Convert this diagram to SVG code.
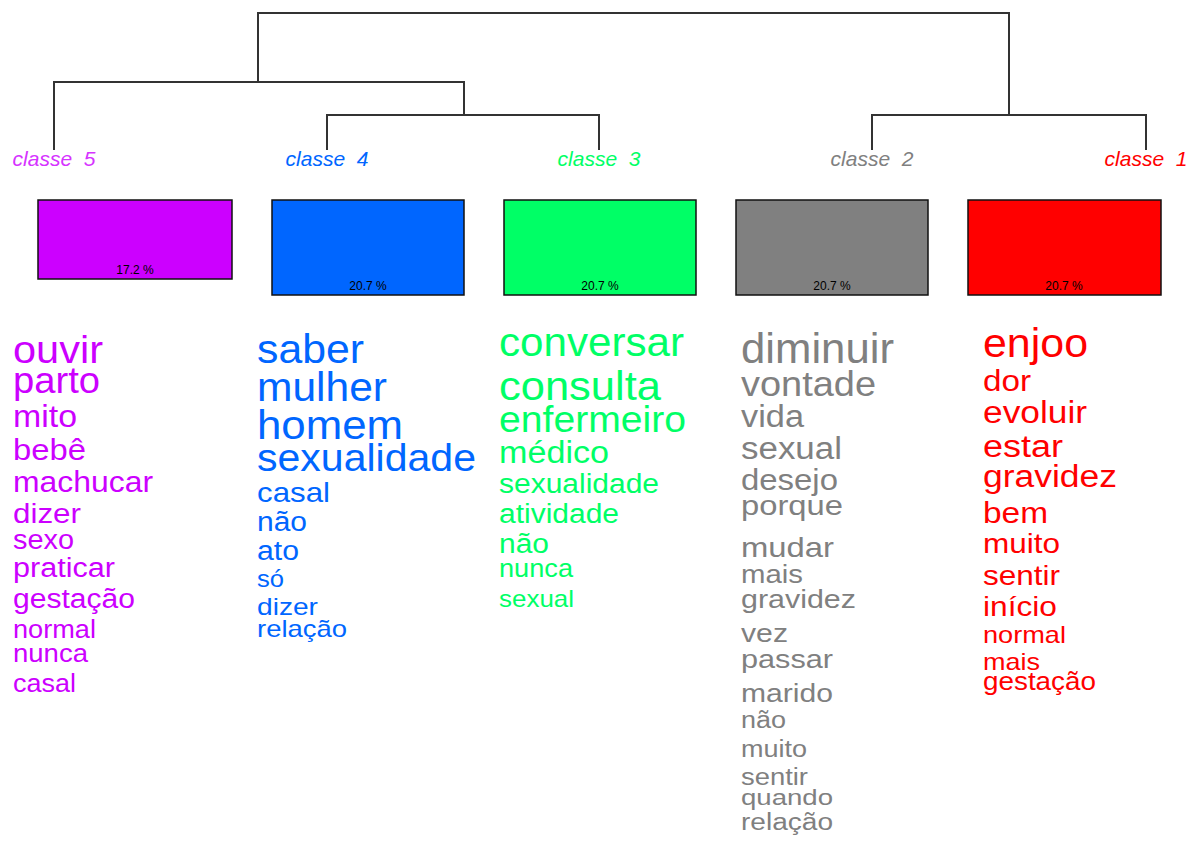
<svg xmlns="http://www.w3.org/2000/svg" width="1194" height="846" viewBox="0 0 1194 846">
<style>
text{font-family:"Liberation Sans",Arial,sans-serif}
.lbl{font-size:21px;font-style:italic;text-anchor:middle;white-space:pre}
.pct{font-size:12px;text-anchor:middle;fill:#000}
.box{stroke:#111;stroke-width:1.5}
.c5{fill:#CC00FF}.c4{fill:#0066FF}.c3{fill:#00FF66}.c2{fill:#808080}.c1{fill:#FF0000}
.l5{fill:#D633FF}
.den{fill:none;stroke:#333;stroke-width:2}
</style>
<rect width="1194" height="846" fill="#fff"/>
<g id="connectors">
<path class="den" d="M258 82 V13 H1009 V115"/>
<path class="den" d="M54 150 V82 H464 V115"/>
<path class="den" d="M327 150 V115 H599 V150"/>
<path class="den" d="M872 150 V115 H1146 V150"/>
</g>
<g id="classe5">
<text class="lbl l5" x="54" y="166" xml:space="preserve">classe  5</text>
<rect class="box c5" x="38" y="200" width="194" height="79"/>
<text class="pct" x="135" y="274">17.2 %</text>
<g class="c5" lengthAdjust="spacingAndGlyphs">
<text x="13" y="363" font-size="39" textLength="90" lengthAdjust="spacingAndGlyphs">ouvir</text>
<text x="13" y="393" font-size="36" textLength="87" lengthAdjust="spacingAndGlyphs">parto</text>
<text x="13" y="427" font-size="32" textLength="64" lengthAdjust="spacingAndGlyphs">mito</text>
<text x="13" y="460" font-size="30" textLength="73" lengthAdjust="spacingAndGlyphs">bebê</text>
<text x="13" y="492" font-size="29" textLength="140" lengthAdjust="spacingAndGlyphs">machucar</text>
<text x="13" y="523" font-size="28" textLength="68" lengthAdjust="spacingAndGlyphs">dizer</text>
<text x="13" y="549" font-size="27" textLength="61" lengthAdjust="spacingAndGlyphs">sexo</text>
<text x="13" y="577" font-size="27" textLength="102" lengthAdjust="spacingAndGlyphs">praticar</text>
<text x="13" y="608" font-size="27" textLength="122" lengthAdjust="spacingAndGlyphs">gestação</text>
<text x="13" y="638" font-size="25" textLength="83" lengthAdjust="spacingAndGlyphs">normal</text>
<text x="13" y="662" font-size="25" textLength="75" lengthAdjust="spacingAndGlyphs">nunca</text>
<text x="13" y="692" font-size="25" textLength="63" lengthAdjust="spacingAndGlyphs">casal</text>
</g>
</g>
<g id="classe4">
<text class="lbl c4" x="327" y="166" xml:space="preserve">classe  4</text>
<rect class="box c4" x="272" y="200" width="192" height="95"/>
<text class="pct" x="368" y="290">20.7 %</text>
<g class="c4">
<text x="257" y="363" font-size="41" textLength="107" lengthAdjust="spacingAndGlyphs">saber</text>
<text x="257" y="401" font-size="41" textLength="130" lengthAdjust="spacingAndGlyphs">mulher</text>
<text x="257" y="439" font-size="41" textLength="146" lengthAdjust="spacingAndGlyphs">homem</text>
<text x="257" y="471" font-size="39" textLength="219" lengthAdjust="spacingAndGlyphs">sexualidade</text>
<text x="257" y="502" font-size="28" textLength="73" lengthAdjust="spacingAndGlyphs">casal</text>
<text x="257" y="531" font-size="27" textLength="50" lengthAdjust="spacingAndGlyphs">não</text>
<text x="257" y="560" font-size="27" textLength="42" lengthAdjust="spacingAndGlyphs">ato</text>
<text x="257" y="587" font-size="23" textLength="27" lengthAdjust="spacingAndGlyphs">só</text>
<text x="257" y="615" font-size="24" textLength="61" lengthAdjust="spacingAndGlyphs">dizer</text>
<text x="257" y="637" font-size="24" textLength="90" lengthAdjust="spacingAndGlyphs">relação</text>
</g>
</g>
<g id="classe3">
<text class="lbl c3" x="599" y="166" xml:space="preserve">classe  3</text>
<rect class="box c3" x="504" y="200" width="192" height="95"/>
<text class="pct" x="600" y="290">20.7 %</text>
<g class="c3">
<text x="499" y="356" font-size="40" textLength="185" lengthAdjust="spacingAndGlyphs">conversar</text>
<text x="499" y="400" font-size="41" textLength="162" lengthAdjust="spacingAndGlyphs">consulta</text>
<text x="499" y="432" font-size="37" textLength="187" lengthAdjust="spacingAndGlyphs">enfermeiro</text>
<text x="499" y="463" font-size="31" textLength="110" lengthAdjust="spacingAndGlyphs">médico</text>
<text x="499" y="493" font-size="27" textLength="160" lengthAdjust="spacingAndGlyphs">sexualidade</text>
<text x="499" y="523" font-size="27" textLength="120" lengthAdjust="spacingAndGlyphs">atividade</text>
<text x="499" y="553" font-size="27" textLength="50" lengthAdjust="spacingAndGlyphs">não</text>
<text x="499" y="577" font-size="25" textLength="74" lengthAdjust="spacingAndGlyphs">nunca</text>
<text x="499" y="607" font-size="24" textLength="75" lengthAdjust="spacingAndGlyphs">sexual</text>
</g>
</g>
<g id="classe2">
<text class="lbl c2" x="872" y="166" xml:space="preserve">classe  2</text>
<rect class="box c2" x="736" y="200" width="192" height="95"/>
<text class="pct" x="832" y="290">20.7 %</text>
<g class="c2">
<text x="741" y="363" font-size="42" textLength="153" lengthAdjust="spacingAndGlyphs">diminuir</text>
<text x="741" y="396" font-size="35" textLength="135" lengthAdjust="spacingAndGlyphs">vontade</text>
<text x="741" y="427" font-size="31" textLength="63" lengthAdjust="spacingAndGlyphs">vida</text>
<text x="741" y="459" font-size="31" textLength="101" lengthAdjust="spacingAndGlyphs">sexual</text>
<text x="741" y="490" font-size="29" textLength="97" lengthAdjust="spacingAndGlyphs">desejo</text>
<text x="741" y="515" font-size="28" textLength="102" lengthAdjust="spacingAndGlyphs">porque</text>
<text x="741" y="557" font-size="28" textLength="93" lengthAdjust="spacingAndGlyphs">mudar</text>
<text x="741" y="583" font-size="25" textLength="62" lengthAdjust="spacingAndGlyphs">mais</text>
<text x="741" y="608" font-size="26" textLength="115" lengthAdjust="spacingAndGlyphs">gravidez</text>
<text x="741" y="642" font-size="26" textLength="47" lengthAdjust="spacingAndGlyphs">vez</text>
<text x="741" y="668" font-size="26" textLength="92" lengthAdjust="spacingAndGlyphs">passar</text>
<text x="741" y="702" font-size="26" textLength="92" lengthAdjust="spacingAndGlyphs">marido</text>
<text x="741" y="728" font-size="23" textLength="45" lengthAdjust="spacingAndGlyphs">não</text>
<text x="741" y="757" font-size="23" textLength="66" lengthAdjust="spacingAndGlyphs">muito</text>
<text x="741" y="785" font-size="23" textLength="67" lengthAdjust="spacingAndGlyphs">sentir</text>
<text x="741" y="805" font-size="22" textLength="92" lengthAdjust="spacingAndGlyphs">quando</text>
<text x="741" y="830" font-size="23" textLength="92" lengthAdjust="spacingAndGlyphs">relação</text>
</g>
</g>
<g id="classe1">
<text class="lbl c1" x="1146" y="166" xml:space="preserve">classe  1</text>
<rect class="box c1" x="968" y="200" width="193" height="95"/>
<text class="pct" x="1064" y="290">20.7 %</text>
<g class="c1">
<text x="983" y="357" font-size="41" textLength="105" lengthAdjust="spacingAndGlyphs">enjoo</text>
<text x="983" y="391" font-size="30" textLength="48" lengthAdjust="spacingAndGlyphs">dor</text>
<text x="983" y="423" font-size="31" textLength="104" lengthAdjust="spacingAndGlyphs">evoluir</text>
<text x="983" y="457" font-size="31" textLength="80" lengthAdjust="spacingAndGlyphs">estar</text>
<text x="983" y="487" font-size="31" textLength="134" lengthAdjust="spacingAndGlyphs">gravidez</text>
<text x="983" y="523" font-size="30" textLength="65" lengthAdjust="spacingAndGlyphs">bem</text>
<text x="983" y="553" font-size="28" textLength="77" lengthAdjust="spacingAndGlyphs">muito</text>
<text x="983" y="585" font-size="28" textLength="77" lengthAdjust="spacingAndGlyphs">sentir</text>
<text x="983" y="616" font-size="28" textLength="74" lengthAdjust="spacingAndGlyphs">início</text>
<text x="983" y="643" font-size="24" textLength="83" lengthAdjust="spacingAndGlyphs">normal</text>
<text x="983" y="670" font-size="24" textLength="57" lengthAdjust="spacingAndGlyphs">mais</text>
<text x="983" y="690" font-size="25" textLength="113" lengthAdjust="spacingAndGlyphs">gestação</text>
</g>
</g>
</svg>
